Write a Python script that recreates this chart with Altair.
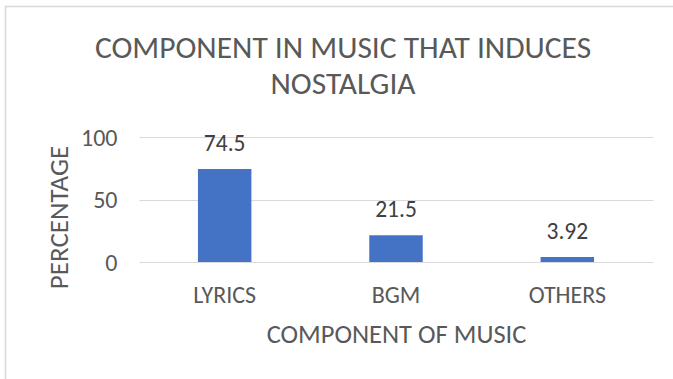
import altair as alt
import pandas as pd

categories = ["LYRICS", "BGM", "OTHERS"]
values = [74.5, 21.5, 3.92]
y_ticks = [0, 50, 100]

title_lines = ["COMPONENT IN MUSIC THAT INDUCES", "NOSTALGIA"]
x_title = "COMPONENT OF MUSIC"
y_title = "PERCENTAGE"

FONT = "Carlito, Lato, sans-serif"
GRAY = "#595959"

df = pd.DataFrame({"component": categories, "pct": values})

W, H = 514, 125

base = alt.Chart(df).encode(
    x=alt.X(
        "component:N",
        sort=categories,
        scale=alt.Scale(paddingInner=0, paddingOuter=0),
        axis=alt.Axis(
            title=x_title,
            labelAngle=0,
            ticks=False,
            tickSize=0,
            domain=False,
            labelBaseline="alphabetic",
            labelPadding=40,
            labelFontSize=24,
            labelColor=GRAY,
            labelFont=FONT,
            titleFont=FONT,
            titleFontSize=26.5,
            titleFontWeight="normal",
            titleColor=GRAY,
            titleBaseline="alphabetic",
            titleX=W / 2,
            titleY=80,
            titleAlign="center",
        ),
    ),
    y=alt.Y(
        "pct:Q",
        scale=alt.Scale(domain=[0, 100], nice=False),
        axis=alt.Axis(
            title=y_title,
            values=y_ticks,
            ticks=False,
            tickSize=0,
            domain=False,
            grid=True,
            gridColor="#d9d9d9",
            gridWidth=1,
            labelPadding=22,
            labelBaseline="middle",
            labelOffset=1,
            labelFontSize=24,
            labelColor=GRAY,
            labelFont=FONT,
            titleFont=FONT,
            titleFontSize=27,
            titleFontWeight="normal",
            titleColor=GRAY,
            titleBaseline="alphabetic",
            titleAngle=270,
            titleAlign="center",
            titleX=-72,
            titleY=80,
        ),
    ),
)

bars = base.mark_bar(color="#4472C4", width=alt.RelativeBandSize(0.312))
labels = base.mark_text(
    baseline="alphabetic", dy=-18, fontSize=23.5, font=FONT, color="#404040"
).encode(text=alt.Text("pct:Q"))

frame = alt.Chart(pd.DataFrame({"a": [0]})).mark_rect(
    fill="transparent", stroke="#d9d9d9", strokeWidth=1.5
).encode(
    x=alt.value(-133.5), x2=alt.value(700), y=alt.value(-130.5), y2=alt.value(400)
)

chart = (
    alt.layer(frame, bars, labels)
    .properties(
        width=W,
        height=H,
        title=alt.TitleParams(
            text=title_lines,
            font=FONT,
            fontSize=31.5,
            fontWeight="normal",
            color=GRAY,
            anchor="middle",
            frame="group",
            lineHeight=36,
            dx=-53,
            offset=-95,
        ),
        padding={"left": 139, "top": 137, "right": 20, "bottom": 117},
        autosize=alt.AutoSizeParams(type="none"),
        background="white",
    )
    .configure_view(stroke=None)
)

chart.save("out.html", embed_options={"renderer": "svg", "actions": False})
